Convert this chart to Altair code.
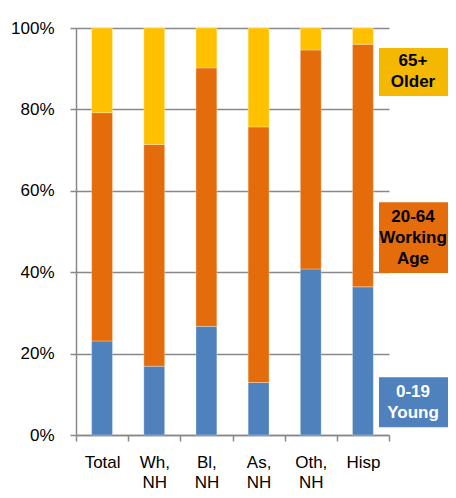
import altair as alt
import pandas as pd

categories = ["Total", "Wh, NH", "Bl, NH", "As, NH", "Oth, NH", "Hisp"]
young = [23.1, 16.9, 26.7, 12.9, 40.8, 36.4]
working = [56.1, 54.5, 63.5, 62.8, 53.8, 59.6]
older = [20.8, 28.6, 9.8, 24.3, 5.4, 4.0]
groups = ["0-19 Young", "20-64 Working Age", "65+ Older"]
colors = ["#4F81BD", "#E46C0A", "#FFC000"]

legend_labels = ["65+\nOlder", "20-64\nWorking\nAge", "0-19\nYoung"]
legend_fill = ["#F5B800", "#E46C0A", "#4F81BD"]
legend_text_color = ["#000000", "#000000", "#FFFFFF"]
legend_top = [95.1, 57.2, 14.2]
legend_bottom = [83.3, 39.8, 1.9]

rows = []
for i, c in enumerate(categories):
    for k, (g, vals) in enumerate(zip(groups, [young, working, older])):
        rows.append({"category": c, "group": g, "value": vals[i], "order": k})
df = pd.DataFrame(rows)

leg = pd.DataFrame({
    "label": legend_labels,
    "fill": legend_fill,
    "tcolor": legend_text_color,
    "top": legend_top,
    "bottom": legend_bottom,
})
leg["mid"] = (leg["top"] + leg["bottom"]) / 2
leg["nlines"] = [len(s.split("\n")) for s in legend_labels]

FONT = "Liberation Sans"
GRAY = "#888888"

bars = alt.Chart(df).mark_bar(
    width={"band": 0.4}, stroke="white", strokeWidth=0.5, strokeOpacity=0.6
).encode(
    x=alt.X(
        "category:N",
        sort=categories,
        scale=alt.Scale(paddingInner=0, paddingOuter=0),
        axis=alt.Axis(
            title=None,
            labelAngle=0,
            labelExpr="split(datum.label, ' ')",
            tickBand="extent",
            tickSize=6,
            tickColor=GRAY,
            tickWidth=1.5,
            domainColor=GRAY,
            domainWidth=1.5,
            labelFont=FONT,
            labelFontSize=17,
            labelColor="#000000",
            labelPadding=13,
            labelLineHeight=20,
            grid=False,
        ),
    ),
    y=alt.Y(
        "value:Q",
        stack="zero",
        scale=alt.Scale(domain=[0, 100]),
        axis=alt.Axis(
            title=None,
            values=[0, 20, 40, 60, 80, 100],
            labelExpr="datum.value + '%'",
            tickSize=6,
            tickColor=GRAY,
            tickWidth=1.5,
            domainColor=GRAY,
            domainWidth=1.5,
            gridColor=GRAY,
            gridWidth=1.5,
            labelFont=FONT,
            labelFontSize=17,
            labelColor="#000000",
            labelPadding=16,
        ),
    ),
    color=alt.Color("group:N", scale=alt.Scale(domain=groups, range=colors), legend=None),
    order=alt.Order("order:Q"),
)

boxes = alt.Chart(leg).mark_rect().encode(
    x=alt.value(303),
    x2=alt.value(372),
    y=alt.Y("top:Q", title=None),
    y2="bottom:Q",
    fill=alt.Fill("fill:N", scale=None),
)


def text_layer(n, dy):
    return alt.Chart(leg).transform_filter(
        alt.datum.nlines == n
    ).mark_text(
        lineBreak="\n", font=FONT, fontSize=17, fontWeight="bold",
        align="center", baseline="middle", lineHeight=21, dy=dy,
    ).encode(
        x=alt.value(337),
        y=alt.Y("mid:Q", title=None),
        text="label:N",
        color=alt.Color("tcolor:N", scale=None),
    )


texts2 = text_layer(2, -10.5)
texts3 = text_layer(3, -21)

chart = alt.layer(bars, boxes, texts2, texts3).properties(
    width=313,
    height=407,
    autosize=alt.AutoSizeParams(type="none"),
    padding={"left": 68, "top": 20, "right": 59, "bottom": 55},
).configure_view(stroke=None)

chart.save("out.html", embed_options={"renderer": "svg", "actions": False})
